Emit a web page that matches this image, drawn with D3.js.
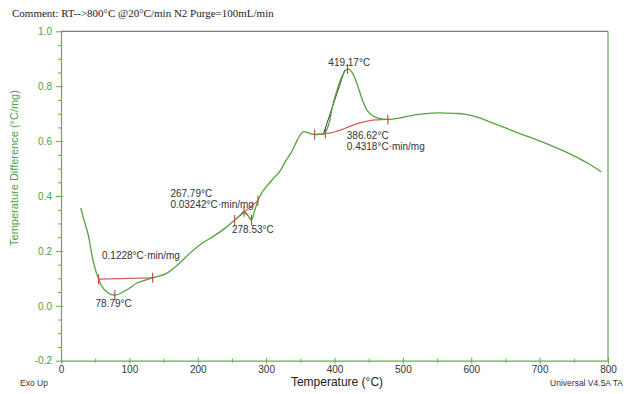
<!DOCTYPE html>
<html>
<head>
<meta charset="utf-8">
<script src="https://cdn.jsdelivr.net/npm/d3@7"></script>
<style>
  html, body { margin: 0; padding: 0; background: #fff; }
  svg { display: block; }
</style>
</head>
<body>
<svg id="chart" width="633" height="394"></svg>
<script>
// DTA trace: temperature (°C) vs temperature difference (°C/mg)
const temperature = [28.8, 34, 39.9, 47.2, 54.5, 60, 66.7, 72, 78.8, 85, 91, 100, 110.5, 122, 132.4, 143, 154.3, 170, 188.3, 205, 222.3, 240, 254, 262, 267.8, 272, 278.5, 283, 288, 294, 300.3, 310, 319.7, 329.5, 336, 342, 348, 354, 360, 366, 372, 378, 383, 386.6, 392, 397.5, 403, 408, 414.6, 419.2, 423, 427, 432, 437, 442, 447, 452, 458, 466, 478, 495, 510, 530, 553, 575, 590, 610, 626, 650, 670, 690, 709, 730, 748, 770, 790];
const tempDiff = [0.357, 0.31, 0.258, 0.161, 0.100, 0.070, 0.051, 0.042, 0.039, 0.043, 0.051, 0.064, 0.082, 0.093, 0.101, 0.108, 0.118, 0.148, 0.191, 0.225, 0.252, 0.283, 0.313, 0.330, 0.343, 0.334, 0.313, 0.345, 0.383, 0.413, 0.434, 0.462, 0.489, 0.531, 0.555, 0.585, 0.615, 0.634, 0.632, 0.626, 0.624, 0.625, 0.627, 0.632, 0.665, 0.731, 0.78, 0.818, 0.853, 0.863, 0.858, 0.845, 0.815, 0.778, 0.742, 0.715, 0.70, 0.689, 0.682, 0.679, 0.684, 0.692, 0.699, 0.703, 0.701, 0.698, 0.686, 0.671, 0.648, 0.628, 0.610, 0.592, 0.570, 0.549, 0.520, 0.488];

// Integration baselines (red)
const baselineA = [[55, 0.097], [134, 0.102]];
const baselineB = [[254, 0.313], [288, 0.383]];
const baselineC = [[371, 0.624], [385, 0.626], [400, 0.633], [415, 0.646], [430, 0.661], [445, 0.671], [460, 0.677], [478, 0.679]];

// Tangent construction lines (black)
const tangents = [
  [[383.5, 0.624], [415, 0.859]],
  [[262, 0.327], [267.8, 0.343]],
  [[267.8, 0.343], [278.5, 0.313]]
];

// Small vertical marker ticks at analysis points
const markerPoints = [[55, 0.097], [134, 0.102], [78.79, 0.039], [254, 0.313], [267.79, 0.343], [278.53, 0.313], [288, 0.383], [371, 0.624], [386.62, 0.628], [419.17, 0.863], [478, 0.679]];

// Annotation labels: [temperature, value, text]
const annotations = [
  [60, 0.172, "0.1228°C·min/mg"],
  [50.5, -0.004, "78.79°C"],
  [160, 0.398, "267.79°C"],
  [160, 0.358, "0.03242°C·min/mg"],
  [250, 0.266, "278.53°C"],
  [391, 0.875, "419.17°C"],
  [418, 0.609, "386.62°C"],
  [418, 0.569, "0.4318°C·min/mg"]
];

const xTicks = [0, 100, 200, 300, 400, 500, 600, 700, 800];
const yTicks = [-0.2, 0.0, 0.2, 0.4, 0.6, 0.8, 1.0];

const svg = d3.select("#chart");
const W = 633, H = 394;
const m = { left: 61, right: 25, top: 31.3, bottom: 33.3 };

const x = d3.scaleLinear().domain([0, 800]).range([m.left, W - m.right]);
const y = d3.scaleLinear().domain([-0.2, 1.0]).range([H - m.bottom, m.top]);

const axisGreen = "#5fae55";
const labelGreen = "#4e9e48";
const curveGreen = "#55a340";
const red = "#d0625a";
const sans = "'Liberation Sans', Arial, sans-serif";
const fmtY = v => d3.format(".1f")(v).replace("\u2212", "-");

// Comment line
svg.append("text")
  .attr("x", 12).attr("y", 17)
  .attr("font-family", "'Liberation Serif', 'Times New Roman', serif")
  .attr("font-size", 11).attr("fill", "#222")
  .text("Comment: RT-->800°C @20°C/min N2 Purge=100mL/min");

// Frame: top and right edges
svg.append("line")
  .attr("x1", x(0)).attr("x2", x(800)).attr("y1", y(1.0)).attr("y2", y(1.0))
  .attr("stroke", "#7a7a7a").attr("stroke-width", 1.2);
svg.append("line")
  .attr("x1", x(800)).attr("x2", x(800)).attr("y1", y(1.0)).attr("y2", y(-0.2))
  .attr("stroke", axisGreen).attr("stroke-width", 1.2);

// Y axis
const yAxis = svg.append("g").attr("transform", `translate(${m.left},0)`)
  .call(d3.axisLeft(y).tickValues(yTicks).tickFormat(fmtY).tickSizeInner(5).tickSizeOuter(0).tickPadding(4));
yAxis.select(".domain").attr("stroke", axisGreen).attr("stroke-width", 1.2);
yAxis.selectAll(".tick line").attr("stroke", axisGreen).attr("x2", -5).attr("x1", 2);
yAxis.selectAll(".tick text").attr("fill", labelGreen).attr("font-family", sans).attr("font-size", 10);

const yMinor = svg.append("g").attr("transform", `translate(${m.left},0)`)
  .call(d3.axisLeft(y).tickValues(d3.range(-0.15, 1.0, 0.05).filter(v => Math.abs(Math.round(v * 20) % 4) !== 0)).tickFormat("").tickSize(3).tickSizeOuter(0));
yMinor.select(".domain").remove();
yMinor.selectAll(".tick line").attr("stroke", axisGreen);

// X axis
const xAxis = svg.append("g").attr("transform", `translate(0,${H - m.bottom})`)
  .call(d3.axisBottom(x).tickValues(xTicks).tickFormat(d3.format("d")).tickSizeInner(3).tickSizeOuter(0).tickPadding(2));
xAxis.select(".domain").attr("stroke", axisGreen).attr("stroke-width", 1.2);
xAxis.selectAll(".tick line").attr("stroke", axisGreen).attr("y1", -3).attr("y2", 3);
xAxis.selectAll(".tick text").attr("fill", "#333").attr("font-family", sans).attr("font-size", 10);

const xMinor = svg.append("g").attr("transform", `translate(0,${H - m.bottom})`)
  .call(d3.axisBottom(x).tickValues(d3.range(50, 800, 100)).tickFormat("").tickSize(2).tickSizeOuter(0));
xMinor.select(".domain").remove();
xMinor.selectAll(".tick line").attr("stroke", axisGreen).attr("y1", -2);

// Axis titles and footer text
svg.append("text")
  .attr("transform", `translate(18,${(y(1.0) + y(-0.2)) / 2 - 28}) rotate(-90)`)
  .attr("text-anchor", "middle")
  .attr("font-family", sans).attr("font-size", 11).attr("fill", labelGreen)
  .text("Temperature Difference (°C/mg)");

svg.append("text")
  .attr("x", 337).attr("y", 386)
  .attr("text-anchor", "middle")
  .attr("font-family", sans).attr("font-size", 12).attr("fill", "#222")
  .text("Temperature (°C)");

svg.append("text")
  .attr("x", 20).attr("y", 386)
  .attr("font-family", sans).attr("font-size", 8.5).attr("fill", "#333")
  .text("Exo Up");

svg.append("text")
  .attr("x", 623).attr("y", 386)
  .attr("text-anchor", "end")
  .attr("font-family", sans).attr("font-size", 8.5).attr("fill", "#333")
  .text("Universal V4.5A TA");

// Baselines
const line = d3.line().x(d => x(d[0])).y(d => y(d[1]));
const smooth = d3.line().x(d => x(d[0])).y(d => y(d[1])).curve(d3.curveMonotoneX);

[baselineA, baselineB].forEach(b => {
  svg.append("path").attr("d", line(b)).attr("fill", "none")
    .attr("stroke", red).attr("stroke-width", 1.2);
});
svg.append("path").attr("d", smooth(baselineC)).attr("fill", "none")
  .attr("stroke", red).attr("stroke-width", 1.2);

// Tangent lines
tangents.forEach(t => {
  svg.append("path").attr("d", line(t)).attr("fill", "none")
    .attr("stroke", "#222").attr("stroke-width", 0.9);
});

// DTA curve
const curveData = temperature.map((t, i) => [t, tempDiff[i]]);
svg.append("path")
  .attr("d", d3.line().x(d => x(d[0])).y(d => y(d[1])).curve(d3.curveCatmullRom.alpha(0.5))(curveData))
  .attr("fill", "none")
  .attr("stroke", curveGreen).attr("stroke-width", 1.3);

// Marker ticks
svg.selectAll("line.marker").data(markerPoints).join("line")
  .attr("class", "marker")
  .attr("x1", d => x(d[0])).attr("x2", d => x(d[0]))
  .attr("y1", d => y(d[1]) - 5).attr("y2", d => y(d[1]) + 5)
  .attr("stroke", "#c0443c").attr("stroke-width", 1.1);

// Annotation text
svg.selectAll("text.ann").data(annotations).join("text")
  .attr("class", "ann")
  .attr("x", d => x(d[0])).attr("y", d => y(d[1]))
  .attr("font-family", sans).attr("font-size", 10).attr("fill", "#333")
  .text(d => d[2]);
</script>
</body>
</html>
